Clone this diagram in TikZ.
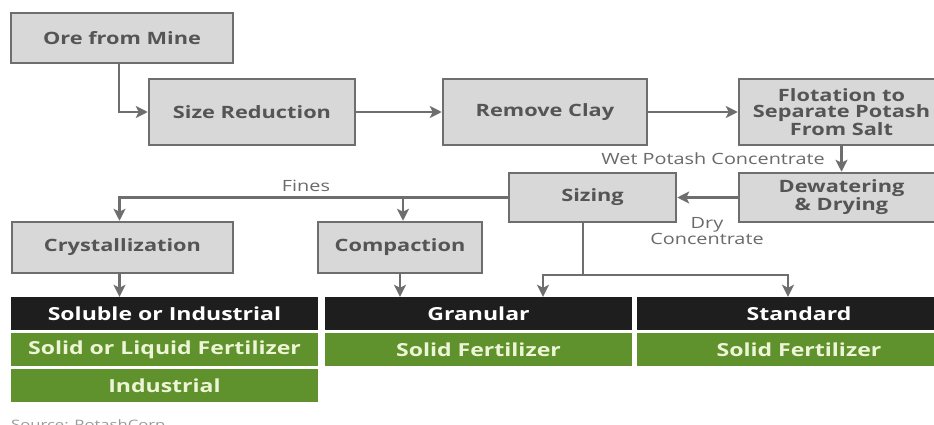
\documentclass[tikz,border=0pt]{standalone}
\usepackage{fontspec}
\setmainfont{Open Sans}[FakeStretch=1.28]
\usetikzlibrary{arrows.meta}
\definecolor{boxfill}{HTML}{D8D8D8}
\definecolor{boxline}{HTML}{6E6E6E}
\definecolor{boxtext}{HTML}{555555}
\definecolor{lbltext}{HTML}{6A6A6A}
\definecolor{barblack}{HTML}{1E1E1E}
\definecolor{bargreen}{HTML}{5F922C}
\definecolor{greentext}{HTML}{EEF5D6}
\definecolor{srctext}{HTML}{9A9A9A}
\tikzset{
  procbox/.style={draw=boxline, fill=boxfill, line width=2.5pt, inner sep=0pt,
    font=\fontsize{17}{16.5}\selectfont\bfseries, text=boxtext, align=center},
  blackbar/.style={fill=barblack, inner sep=0pt, minimum height=33pt,
    font=\fontsize{18}{19}\selectfont\bfseries, text=white},
  greenbar/.style={fill=bargreen, inner sep=0pt, minimum height=33pt,
    font=\fontsize{18}{19}\selectfont\bfseries, text=greentext},
  lbl/.style={font=\fontsize{15.5}{16}\selectfont, text=lbltext, inner sep=0pt, align=center},
  arr/.style={draw=boxline, line width=2.2pt, -{Stealth[length=12pt,width=12pt,inset=3pt]}},
  ln/.style={draw=boxline, line width=2.2pt},
}
\begin{document}
\begin{tikzpicture}[x=1pt,y=-1pt]
\useasboundingbox (0,0) rectangle (934,425);
\fill[white] (0,0) rectangle (934,425);
% process boxes
\node[procbox, minimum width=222pt, minimum height=50pt] (ore) at (122,38) {Ore from Mine};
\node[procbox, minimum width=206pt, minimum height=66pt] (sizered) at (252,112) {Size Reduction};
\node[procbox, minimum width=204pt, minimum height=66pt] (clay) at (545,112) {Remove Clay};
\node[procbox, minimum width=205pt, minimum height=66pt] (flot) at (841.5,112) {Flotation to\\Separate Potash\\From Salt};
\node[procbox, minimum width=205pt, minimum height=49pt] (dew) at (841.5,197.5) {Dewatering\\\& Drying};
\node[procbox, minimum width=167pt, minimum height=49pt] (sizing) at (592.5,197.5) {Sizing};
\node[procbox, minimum width=221pt, minimum height=51pt] (cryst) at (122.5,247.5) {Crystallization};
\node[procbox, minimum width=164pt, minimum height=51pt] (compact) at (400,247.5) {Compaction};
% product bars
\node[blackbar, minimum width=307pt] (soluble) at (164.5,313.5) {Soluble or Industrial};
\node[blackbar, minimum width=307pt] (granular) at (478.5,313.5) {Granular};
\node[blackbar, minimum width=324pt] (standard) at (799,313.5) {Standard};
\node[greenbar, minimum width=307pt] (solliq) at (164.5,349.5) {Solid or Liquid Fertilizer};
\node[greenbar, minimum width=307pt] (solfert2) at (478.5,349.5) {Solid Fertilizer};
\node[greenbar, minimum width=324pt] (solfert3) at (799,349.5) {Solid Fertilizer};
\node[greenbar, minimum width=307pt] (industrial) at (164.5,385.5) {Industrial};
% labels
\node[lbl, anchor=east] (wetlbl) at (825,159) {Wet Potash Concentrate};
\node[lbl] (fineslbl) at (306,186) {Fines};
\node[lbl] (drylbl) at (707,231) {Dry\\Concentrate};
\node[font=\fontsize{13}{14}\selectfont, text=srctext, anchor=base west, inner sep=0pt] (src) at (11,429) {Source: PotashCorp};
% connectors
\draw[arr] ([xshift=-3pt]ore.south) |- (sizered.west);
\draw[arr] (sizered.east) -- (clay.west);
\draw[arr] (clay.east) -- (flot.west);
\draw[arr] (flot.south) -- (dew.north);
\draw[arr] (dew.west) -- (sizing.east);
\draw[arr] (sizing.west) -| ([xshift=-3pt]cryst.north);
\draw[arr] ([xshift=3pt]compact.north |- sizing.west) -- ([xshift=3pt]compact.north);
\draw[arr] ([xshift=-3pt]cryst.south) -- ([xshift=-3pt]cryst.south |- soluble.north);
\draw[arr] (compact.south) -- (compact.south |- granular.north);
\coordinate (split) at (583,275);
\draw[ln] (sizing.south -| split) -- (split);
\draw[arr] (split) -| ([xshift=64.5pt]granular.north);
\draw[arr] (split) -| ([xshift=-11pt]standard.north);
\end{tikzpicture}
\end{document}
